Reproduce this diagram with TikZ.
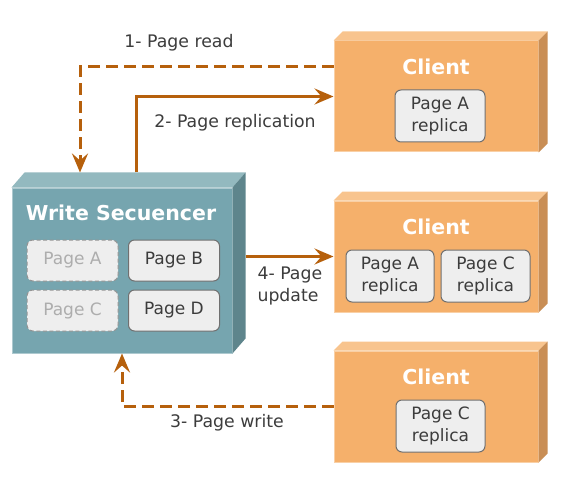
\documentclass[tikz,border=0pt]{standalone}
\usepackage{fontspec}
\setmainfont{DejaVu Sans}
\usetikzlibrary{arrows.meta,positioning}
\definecolor{wsfront}{RGB}{118,165,175}
\definecolor{wstop}{RGB}{147,185,191}
\definecolor{wsside}{RGB}{94,133,140}
\definecolor{clfront}{RGB}{245,176,107}
\definecolor{cltop}{RGB}{248,196,142}
\definecolor{clside}{RGB}{201,142,85}
\definecolor{pagefill}{RGB}{238,238,238}
\definecolor{pageline}{RGB}{112,112,112}
\definecolor{txt}{RGB}{60,60,60}
\definecolor{flow}{RGB}{182,96,12}
\tikzstyle{arrow} = [line width=3pt,-{Stealth[length=19pt,width=16pt,inset=7pt]},color=flow]
\tikzstyle{dasharrow} = [arrow, dash pattern=on 12pt off 6pt]
\tikzstyle{server} = [rectangle, fill=wsfront, draw=wsfront!60!white, line width=1pt, minimum width=220pt, minimum height=165pt, inner sep=0pt]
\tikzstyle{client} = [rectangle, fill=clfront, draw=clfront!60!white, line width=1pt, minimum width=204pt, minimum height=111pt, inner sep=0pt]
\tikzstyle{boxtitle} = [font=\fontsize{20.5}{24}\selectfont\bfseries, text=white]
\tikzstyle{page} = [rectangle, rounded corners=6pt, fill=pagefill, draw=pageline, line width=1pt, text=txt, font=\fontsize{17}{22.5}\selectfont, inner sep=0pt, align=center]
\tikzstyle{ghost} = [page, draw=pageline!75!white, dash pattern=on 4pt off 2.5pt, text=black!32]
\tikzstyle{flowlabel} = [text=txt, font=\fontsize{17.3}{22}\selectfont, align=left]

\begin{document}
\begin{tikzpicture}[x=1pt, y=-1pt]
    \useasboundingbox (0,0) rectangle (565,484);

    % Write secuencer
    \node[server] (ws) at (122,270.5) {};
    \fill[wstop] (ws.north west) -- ++(13,-15) -- ([shift={(13,-15)}]ws.north east) -- (ws.north east) -- cycle;
    \fill[wsside] (ws.north east) -- ++(13,-15) -- ([shift={(13,-15)}]ws.south east) -- (ws.south east) -- cycle;
    \node[boxtitle] (wst) at (121,213) {Write Secuencer};
    \node[ghost, minimum width=91pt, minimum height=41pt] (pA) at (72.5,260.5) {Page A};
    \node[page, minimum width=91pt, minimum height=41pt] (pB) at (174,260.5) {Page B};
    \node[ghost, minimum width=91pt, minimum height=41pt] (pC) at (72.5,310.5) {Page C};
    \node[page, minimum width=91pt, minimum height=41pt] (pD) at (174,310.5) {Page D};

    % Clients
    \node[client] (c1) at (436,96.5) {};
    \node[client] (c2) at (436,256.5) {};
    \node[client] (c3) at (436,406.5) {};
    \foreach \n in {c1,c2,c3} {
        \fill[cltop] (\n.north west) -- ++(9,-9) -- ([shift={(9,-9)}]\n.north east) -- (\n.north east) -- cycle;
        \fill[clside] (\n.north east) -- ++(9,-9) -- ([shift={(9,-9)}]\n.south east) -- (\n.south east) -- cycle;
    }
    \node[boxtitle] (c1t) at (436,67) {Client};
    \node[boxtitle] (c2t) at (436,227) {Client};
    \node[boxtitle] (c3t) at (436,377) {Client};
    \node[page, minimum width=90pt, minimum height=52pt] (r1) at (440,116) {Page A\\replica};
    \node[page, minimum width=88pt, minimum height=52pt] (r2a) at (390,276) {Page A\\replica};
    \node[page, minimum width=89pt, minimum height=52pt] (r2c) at (485.5,276) {Page C\\replica};
    \node[page, minimum width=89pt, minimum height=52pt] (r3) at (440.5,426) {Page C\\replica};

    % Flows
    \draw[dasharrow] (c1.west |- c1t) -| ([xshift=-42pt, yshift=15pt]ws.north);
    \draw[arrow] ([xshift=14pt, yshift=15pt]ws.north) |- (c1.west);
    \draw[arrow] (c2.west -| ws.east) ++(13,0) -- (c2.west);
    \draw[dasharrow] (c3.west) -| (ws.south);

    % Labels
    \node[flowlabel] (l1) at (179,43) {1- Page read};
    \node[flowlabel] (l2) at (235,123) {2- Page replication};
    \node[flowlabel, anchor=west] (l4) at (254,286) {4- Page\\update};
    \node[flowlabel] (l3) at (227,423) {3- Page write};
\end{tikzpicture}
\end{document}
